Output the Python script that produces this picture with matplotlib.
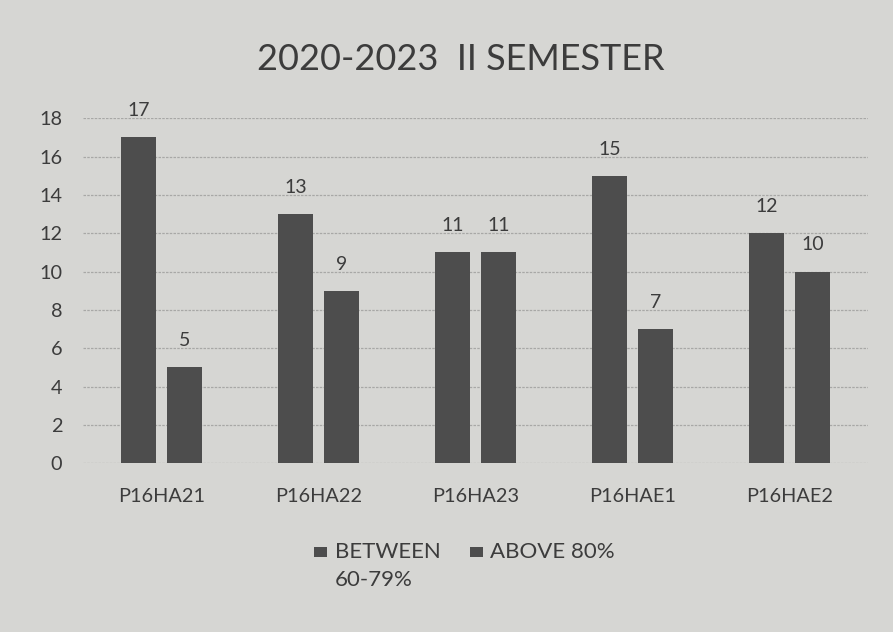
import numpy as np
import matplotlib
matplotlib.use("Agg")
import matplotlib.pyplot as plt
from matplotlib.patches import Rectangle

# data
courses = ["P16HA21", "P16HA22", "P16HA23", "P16HAE1", "P16HAE2"]
between_60_79 = [17, 13, 11, 15, 12]
above_80 = [5, 9, 11, 7, 10]
y_ticks = [0, 2, 4, 6, 8, 10, 12, 14, 16, 18]

bg = "#d6d6d3"
bar_col = "#4d4d4d"
txt_col = "#3c3c3c"

plt.rcParams['font.family'] = ['Lato', 'DejaVu Sans']

fig = plt.figure(figsize=(8.93, 6.32), dpi=100, facecolor=bg)
ax = fig.add_axes([0.093, 0.267, 0.879, 0.546])
ax.set_facecolor(bg)

x = np.arange(len(courses))
w = 0.225
off = 0.147
b1 = ax.bar(x - off, between_60_79, w, color=bar_col, zorder=3)
b2 = ax.bar(x + off, above_80, w, color=bar_col, zorder=3)

for bars, vals in ((b1, between_60_79), (b2, above_80)):
    for r, v in zip(bars, vals):
        ax.annotate(str(v), (r.get_x() + r.get_width() / 2, v),
                    xytext=(0, 13), textcoords="offset points",
                    ha="center", va="bottom", fontsize=14, color=txt_col)

ax.set_xlim(-0.5, len(courses) - 0.5)
ax.set_ylim(0, 18)
ax.set_yticks(y_ticks)
ax.set_xticks(x)
ax.set_xticklabels(courses)
ax.grid(axis="y", color="#a8a8a6", linewidth=0.9, linestyle=(0, (2, 1)), zorder=0)
ax.tick_params(length=0, labelsize=14.3, colors=txt_col)
ax.tick_params(axis="y", pad=15)
ax.tick_params(axis="x", pad=18)
for s in ax.spines.values():
    s.set_visible(False)

fig.text(0.516, 0.906, "2020-2023  II SEMESTER", ha="center", va="center",
         fontsize=26, color=txt_col)

# legend, laid out like the office-style original
for lx, label in ((0.352, "BETWEEN\n60-79%"), (0.526, "ABOVE 80%")):
    fig.patches.append(Rectangle((lx, 0.118), 0.0145, 0.017, transform=fig.transFigure,
                                 facecolor=bar_col, edgecolor="none"))
    fig.text(lx + 0.023, 0.142, label, ha="left", va="top", fontsize=16,
             color=txt_col, linespacing=1.5)

fig.savefig("out.png", dpi=100, facecolor=bg)
